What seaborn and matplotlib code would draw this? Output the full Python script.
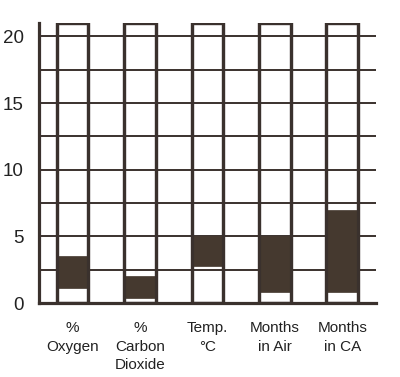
import numpy as np
import pandas as pd
import matplotlib
matplotlib.use("Agg")
import matplotlib.pyplot as plt
import seaborn as sns

categories = ["%\nOxygen", "%\nCarbon\nDioxide", "Temp.\n°C", "Months\nin Air", "Months\nin CA"]
range_low = [1.1, 0.35, 2.8, 0.8, 0.8]
range_high = [3.55, 2.05, 5.0, 5.0, 7.0]
full_scale = [21, 21, 21, 21, 21]
y_ticks = [0, 5, 10, 15, 20]
grid_levels = [2.5, 5, 7.5, 10, 12.5, 15, 17.5, 20]

LINE = "#3a312d"
FILL = "#45392f"

df = pd.DataFrame({
    "category": categories,
    "low": range_low,
    "high": range_high,
    "full": full_scale,
})
df["span"] = df["high"] - df["low"]

sns.set_style("white")
plt.rcParams["font.family"] = ["Liberation Sans", "DejaVu Sans"]

fig = plt.figure(figsize=(4.0, 3.77), dpi=100)
ax = fig.add_axes([0.097, 0.196, 0.843, 0.743])

# white outline columns
sns.barplot(data=df, x="category", y="full", ax=ax, color="white",
            edgecolor=LINE, linewidth=2.3, width=0.47, saturation=1,
            errorbar=None, zorder=1)

for lvl in grid_levels:
    ax.axhline(lvl, color=LINE, linewidth=1.4, zorder=2)

# dark ranges
sns.barplot(data=df, x="category", y="span", bottom=df["low"].values, ax=ax,
            color=FILL, edgecolor=FILL, linewidth=0.5, width=0.45,
            saturation=1, errorbar=None, zorder=3)

# redraw column edges above the fills
sns.barplot(data=df, x="category", y="full", ax=ax, fill=False,
            edgecolor=LINE, linewidth=2.3, width=0.47, saturation=1,
            errorbar=None, zorder=4)

ax.set_xlim(-0.5, 4.5)
ax.set_ylim(0, 21)
ax.set_yticks(y_ticks)
ax.tick_params(axis="y", length=0, pad=11, labelsize=13.5, labelcolor="#222222")
ax.tick_params(axis="x", which="major", length=0, pad=13, labelsize=11,
               labelcolor="#222222")
for lab in ax.get_xticklabels():
    lab.set_linespacing(1.4)
ax.set_xticks(np.arange(0.5, 5, 1.0), minor=True)
ax.tick_params(axis="x", which="minor", direction="inout", length=9, width=3,
               color=LINE)
ax.set_xlabel("")
ax.set_ylabel("")

for side in ["top", "right"]:
    ax.spines[side].set_visible(False)
for side in ["left", "bottom"]:
    ax.spines[side].set_color(LINE)
    ax.spines[side].set_linewidth(2.3)
    ax.spines[side].set_zorder(5)

fig.savefig("out.png", dpi=100)
